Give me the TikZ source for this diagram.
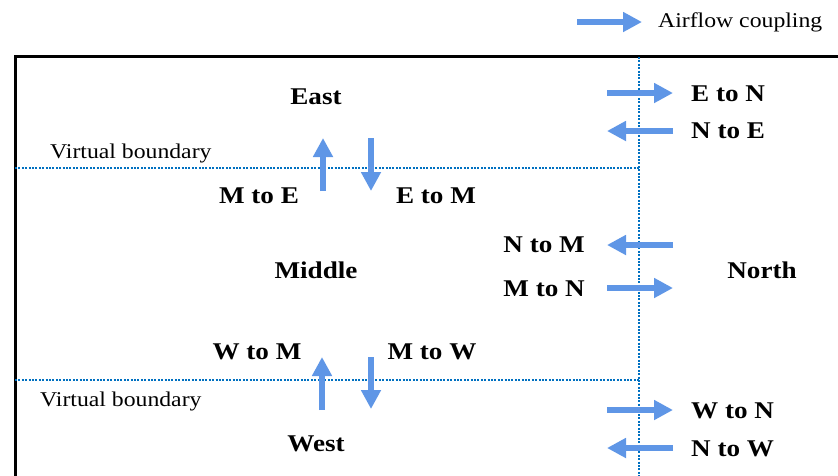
\documentclass[tikz,border=0pt]{standalone}
\usepackage{fontspec}
\setmainfont[FakeStretch=1.13]{Liberation Serif}
\usetikzlibrary{arrows.meta}
\definecolor{flowblue}{RGB}{95,150,230}
\definecolor{zoneblue}{RGB}{0,112,192}
\tikzset{
  zone/.style={font=\bfseries\fontsize{24}{28}\selectfont, inner sep=0pt},
  flowlabel/.style={font=\bfseries\fontsize{24}{28}\selectfont, inner sep=0pt},
  note/.style={font=\fontsize{21}{25}\selectfont, inner sep=0pt},
  flow/.style={draw=flowblue, line width=6pt, -{Triangle[length=19pt,width=19pt]}},
  boundary/.style={draw=zoneblue, line width=2.4pt, dash pattern=on 2pt off 1.4pt},
  frame/.style={draw=black, line width=3pt}
}
\begin{document}
\begin{tikzpicture}[x=1pt, y=-1pt]
\useasboundingbox (0,0) rectangle (838,475);
\clip (0,0) rectangle (838,475);

% outer frame (open to the right and below)
\coordinate (fbot) at (15,490);
\coordinate (fright) at (860,56);
\draw[frame] (fbot) |- (fright);

% virtual boundaries between zones
\coordinate (vtop) at (639,57);
\coordinate (vbot) at (639,480);
\coordinate (hup1) at (15,168);
\coordinate (hup2) at (639,168);
\coordinate (hlo1) at (15,380);
\coordinate (hlo2) at (639,380);
\draw[boundary] (vtop) -- (vbot);
\draw[boundary] (hup1) -- (hup2);
\draw[boundary] (hlo1) -- (hlo2);

\node[note, anchor=west] (vb1) at (50,153) {Virtual boundary};
\node[note, anchor=west] (vb2) at (40,401) {Virtual boundary};

% zones
\node[zone] (east) at (316,97) {East};
\node[zone] (middle) at (316,270) {Middle};
\node[zone] (north) at (762,270) {North};
\node[zone] (west) at (316,444) {West};

% legend
\coordinate (lgA) at (577,22);
\coordinate (lgB) at (642,22);
\draw[flow] (lgA) -- (lgB);
\node[note, anchor=west] (legend) at (658,22) {Airflow coupling};

% East <-> North
\coordinate (enA) at (607,93);  \coordinate (enB) at (673,93);
\coordinate (neA) at (673,131); \coordinate (neB) at (607,131);
\draw[flow] (enA) -- (enB);
\draw[flow] (neA) -- (neB);
\node[flowlabel, anchor=west] (lEN) at (691,94) {E to N};
\node[flowlabel, anchor=west] (lNE) at (691,131) {N to E};

% Middle <-> East
\coordinate (meA) at (323,191); \coordinate (meB) at (323,138);
\coordinate (emA) at (371,138); \coordinate (emB) at (371,191);
\draw[flow] (meA) -- (meB);
\draw[flow] (emA) -- (emB);
\node[flowlabel] (lME) at (259,196) {M to E};
\node[flowlabel] (lEM) at (436,196) {E to M};

% North <-> Middle
\coordinate (nmA) at (673,245); \coordinate (nmB) at (607,245);
\coordinate (mnA) at (607,288); \coordinate (mnB) at (673,288);
\draw[flow] (nmA) -- (nmB);
\draw[flow] (mnA) -- (mnB);
\node[flowlabel, anchor=east] (lNM) at (585,245) {N to M};
\node[flowlabel, anchor=east] (lMN) at (585,289) {M to N};

% West <-> Middle
\coordinate (wmA) at (322,410); \coordinate (wmB) at (322,357);
\coordinate (mwA) at (371,357); \coordinate (mwB) at (371,409);
\draw[flow] (wmA) -- (wmB);
\draw[flow] (mwA) -- (mwB);
\node[flowlabel] (lWM) at (257,352) {W to M};
\node[flowlabel] (lMW) at (432,352) {M to W};

% West <-> North
\coordinate (wnA) at (607,410); \coordinate (wnB) at (673,410);
\coordinate (nwA) at (673,448); \coordinate (nwB) at (607,448);
\draw[flow] (wnA) -- (wnB);
\draw[flow] (nwA) -- (nwB);
\node[flowlabel, anchor=west] (lWN) at (691,411) {W to N};
\node[flowlabel, anchor=west] (lNW) at (691,449) {N to W};
\end{tikzpicture}
\end{document}
